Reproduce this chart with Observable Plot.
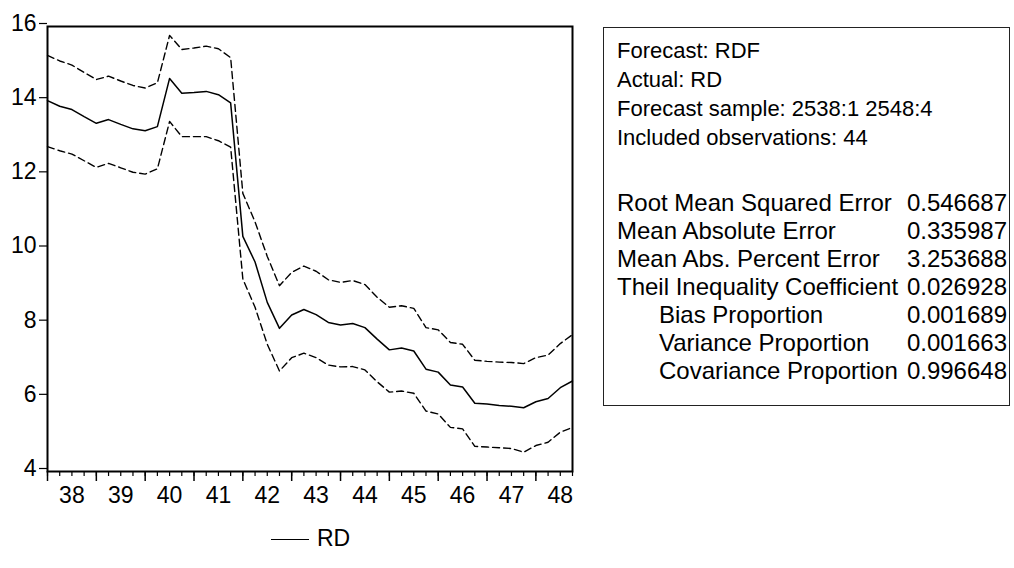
<!DOCTYPE html>
<html>
<head>
<meta charset="utf-8">
<script src="https://cdn.jsdelivr.net/npm/d3@7"></script>
<script src="https://cdn.jsdelivr.net/npm/@observablehq/plot@0.6"></script>
<style>
  html, body { margin: 0; padding: 0; background: white; }
  #wrap { position: relative; width: 1014px; height: 568px; overflow: hidden; background: white;
          font-family: "Liberation Sans", Arial, sans-serif; color: #000; }
  #chart { position: absolute; left: 0; top: 0; }
  #stats { position: absolute; left: 603px; top: 27px; width: 405px; height: 377px;
           border: 1.5px solid #222; box-sizing: content-box; }
  .row { position: absolute; left: 13px; right: 2px; height: 28px; line-height: 28px; font-size: 24px; white-space: nowrap; }
  .row .lab { position: absolute; left: 0; top: 0; }
  .row .val { position: absolute; right: 0; top: 0; }
  .hdr { font-size: 22px; }
  #legend { position: absolute; left: 271px; top: 524px; height: 28px; line-height: 28px; font-size: 23px; white-space: nowrap; }
  #legend .sw { display: inline-block; width: 38px; height: 0; border-top: 1.5px solid #000; vertical-align: middle; margin-right: 8px; }
</style>
</head>
<body>
<div id="wrap">
  <div id="chart"></div>
  <div id="stats"></div>
  <div id="legend"><span class="sw"></span><span>RD</span></div>
</div>
<script>
// ---- data (quarterly, 2538:1 .. 2548:4, 44 observations) ----
const rdf = [14.00, 13.85, 13.76, 13.57, 13.39, 13.49, 13.36, 13.24, 13.19, 13.30,
             14.60, 14.20, 14.22, 14.25, 14.16, 13.94, 10.34, 9.65, 8.56, 7.86,
             8.22, 8.37, 8.23, 8.02, 7.95, 7.99, 7.88, 7.57, 7.28, 7.33,
             7.25, 6.76, 6.68, 6.33, 6.28, 5.84, 5.82, 5.78, 5.76, 5.72,
             5.88, 5.97, 6.26, 6.44];
const upper = [15.22, 15.07, 14.96, 14.76, 14.57, 14.66, 14.53, 14.41, 14.34, 14.48,
               15.76, 15.38, 15.42, 15.47, 15.40, 15.16, 11.50, 10.73, 9.80, 9.01,
               9.37, 9.54, 9.40, 9.17, 9.10, 9.15, 9.04, 8.70, 8.43, 8.47,
               8.40, 7.88, 7.82, 7.48, 7.43, 7.00, 6.97, 6.95, 6.94, 6.91,
               7.07, 7.14, 7.45, 7.69];
const lower = [12.76, 12.65, 12.56, 12.38, 12.20, 12.31, 12.19, 12.07, 12.02, 12.16,
               13.44, 13.03, 13.03, 13.03, 12.92, 12.75, 9.19, 8.43, 7.43, 6.71,
               7.07, 7.19, 7.07, 6.87, 6.82, 6.83, 6.74, 6.42, 6.14, 6.17,
               6.11, 5.63, 5.55, 5.19, 5.15, 4.68, 4.66, 4.64, 4.62, 4.52,
               4.70, 4.79, 5.06, 5.19];
const yearLabels = ["38", "39", "40", "41", "42", "43", "44", "45", "46", "47", "48"];
const yTicks = [4, 6, 8, 10, 12, 14, 16];
const seriesName = "RD";

const headerLines = ["Forecast: RDF", "Actual: RD", "Forecast sample: 2538:1 2548:4", "Included observations: 44"];
const statNames = ["Root Mean Squared Error", "Mean Absolute Error", "Mean Abs. Percent Error",
                   "Theil Inequality Coefficient", "Bias Proportion", "Variance Proportion", "Covariance Proportion"];
const statValues = ["0.546687", "0.335987", "3.253688", "0.026928", "0.001689", "0.001663", "0.996648"];
const statIndent = [0, 0, 0, 0, 1, 1, 1];

// ---- build ----
const n = rdf.length;
const idx = d3.range(n);
const rows = idx.map(i => ({i, rdf: rdf[i], upper: upper[i], lower: lower[i]}));
const yearStart = d3.range(0, n, 4);
const yearMid = yearStart.map(s => s + 2);

const chart = Plot.plot({
  width: 600,
  height: 515,
  marginLeft: 47,
  marginRight: 28,
  marginTop: 26,
  marginBottom: 44,
  x: {domain: [0, n - 1], axis: null},
  y: {domain: [4, 16], axis: null},
  style: {fontFamily: "'Liberation Sans', Arial, sans-serif", fontSize: "23px", background: "white", color: "black"},
  marks: [
    Plot.axisY({ticks: yTicks, tickSize: 8, tickPadding: 3, tickFormat: d => String(d), fontSize: 23, dy: -3,
                label: null, stroke: "black", strokeWidth: 1.2}),
    Plot.axisX({ticks: idx, tickSize: 5, tickFormat: () => "", label: null, stroke: "black", strokeWidth: 1.2}),
    Plot.axisX({ticks: yearStart, tickSize: 10, tickFormat: () => "", label: null, stroke: "black", strokeWidth: 1.5}),
    Plot.axisX({ticks: yearMid, tickSize: 0, tickPadding: 15, fontSize: 23, label: null,
                tickFormat: d => yearLabels[(d - 2) / 4]}),
    Plot.line(rows, {x: "i", y: "upper", stroke: "black", strokeWidth: 1.4, strokeDasharray: "7,4"}),
    Plot.line(rows, {x: "i", y: "lower", stroke: "black", strokeWidth: 1.4, strokeDasharray: "7,4"}),
    Plot.line(rows, {x: "i", y: "rdf", stroke: "black", strokeWidth: 1.5}),
    Plot.frame({stroke: "black", strokeWidth: 2})
  ]
});
document.getElementById("chart").appendChild(chart);

// stats box
const stats = document.getElementById("stats");
headerLines.forEach((t, k) => {
  const r = document.createElement("div");
  r.className = "row hdr";
  r.style.top = (9 + k * 29) + "px";
  r.innerHTML = `<span class="lab"></span>`;
  r.querySelector(".lab").textContent = t;
  stats.appendChild(r);
});
statNames.forEach((t, k) => {
  const r = document.createElement("div");
  r.className = "row";
  r.style.top = (161 + k * 28) + "px";
  r.innerHTML = `<span class="lab"></span><span class="val"></span>`;
  const lab = r.querySelector(".lab");
  lab.textContent = t;
  lab.style.left = (statIndent[k] * 42) + "px";
  r.querySelector(".val").textContent = statValues[k];
  stats.appendChild(r);
});
document.querySelector("#legend span:last-child").textContent = seriesName;
</script>
</body>
</html>
